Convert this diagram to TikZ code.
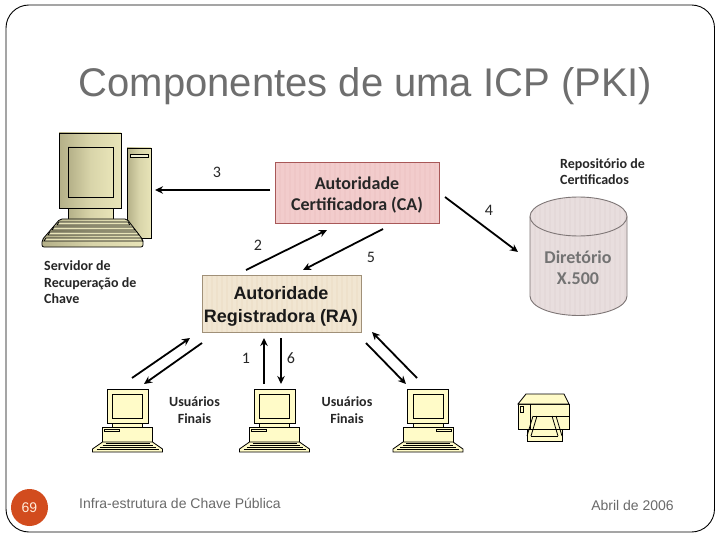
\documentclass[tikz,border=0pt]{standalone}
\usepackage{fontspec}
\setmainfont{Liberation Sans}
\newfontfamily\carl{Carlito}
\usetikzlibrary{arrows.meta,shapes.geometric}
\definecolor{iconfill}{HTML}{FFFBC8}
\definecolor{titlegray}{HTML}{6E6E6E}
\definecolor{footgray}{HTML}{6A6A6A}
\definecolor{caf}{HTML}{F2CCCC}
\definecolor{cafs}{HTML}{EFC7C7}
\definecolor{cad}{HTML}{A85858}
\definecolor{raf}{HTML}{F1E6D2}
\definecolor{rafs}{HTML}{EEE1CB}
\definecolor{rad}{HTML}{A09078}
\definecolor{cylf}{HTML}{E8DEDE}
\definecolor{cylfs}{HTML}{E4D9D9}
\definecolor{cyld}{HTML}{7E7676}
\definecolor{beigea}{HTML}{B4B088}
\definecolor{beigeb}{HTML}{E8E4B8}
\definecolor{pgred}{HTML}{D24C1E}
\tikzset{
  conn/.style={draw=black,line width=1.8pt,-{Stealth[length=8pt,width=7.5pt]}},
  lbl/.style={font=\carl\bfseries\fontsize{14}{16.5}\selectfont,align=left,inner sep=0pt,text=black!85},
  smalllbl/.style={font=\carl\bfseries\fontsize{14}{17}\selectfont,align=center,inner sep=0pt,text=black!85},
  numlbl/.style={font=\carl\fontsize{16}{17}\selectfont,inner sep=0pt,text=black!85},
  icon/.style={draw=black,line width=0.8pt,fill=iconfill},
  bigicon/.style={draw=black,line width=0.8pt,left color=beigea,right color=beigeb,middle color=beigeb!70!beigea},
  foot/.style={font=\fontsize{14}{16}\selectfont,text=footgray,inner sep=0pt},
  stripes/.style={path picture={\foreach \i in {0,5,...,170}
     \draw[#1,line width=2pt] ([xshift=\i pt]path picture bounding box.south west) -- ([xshift=\i pt]path picture bounding box.north west);}}
}
\newcommand{\smallpc}[2]{%
  \begin{scope}[shift={(#1,389)},xscale=#2]
    \path[icon] (-15,34) rectangle (15,38);
    \path[icon] (-20.5,0) rectangle (20.5,34);
    \path[icon] (-15,5) rectangle (15,29);
    \path[icon] (-25,38) rectangle (25,53);
    \path[icon] (-23,40) rectangle (-8,42);
    \path[icon] (-25,53) -- (25,53) -- (35,60) -- (35,63) -- (-35,63) -- (-35,60) -- cycle;
    \draw[line width=1pt] (-22,54.5) -- (22,54.5);
    \draw[line width=1pt] (-25,56.5) -- (25,56.5);
    \draw[line width=1pt] (-28,58.5) -- (28,58.5);
    \draw[line width=1pt] (-31,60.5) -- (31,60.5);
  \end{scope}}
\begin{document}
\begin{tikzpicture}[x=1pt,y=-1pt]
\useasboundingbox (0,0) rectangle (720,540);
\fill[white] (0,0) rectangle (720,540);
\node[draw=black,line width=0.9pt,rounded corners=23pt,minimum width=708.5pt,minimum height=527pt,inner sep=0pt] (frame) at (360.25,268.5) {};
\node[font=\fontsize{40}{44}\selectfont,text=titlegray,inner sep=0pt,anchor=base] (title) at (365.5,97) {Componentes de uma ICP (PKI)};

% big computer
\path[bigicon] (127,148) rectangle (151,238);
\path[draw=black,line width=0.8pt,fill=beigeb!60] (130,154) rectangle (148,157);
\path[bigicon] (68,208) rectangle (113,219);
\path[bigicon] (59,133) rectangle (121,208);
\path[bigicon] (68,147) rectangle (113,197);
\path[bigicon,rounded corners=2pt] (60,219) -- (127,219) -- (143,240) -- (143,247) -- (42,247) -- (42,240) -- cycle;
\foreach \y/\a/\b in {224/59/128,229/54/133,234/50/137,240/46/141}
  \draw[draw=black,line width=0.8pt,fill=beigeb] (\a,\y-2) -- (\b,\y-2) -- (\b+2,\y+1) -- (\a-2,\y+1) -- cycle;
\coordinate (srv) at (155,190);
\node[lbl,anchor=north west] (srvlbl) at (44,260.5) {Servidor de\\Recuperação de\\Chave};

% CA and RA
\node[draw=cad,fill=caf,stripes=cafs,line width=1pt,minimum width=164pt,minimum height=61pt,inner sep=0pt] (ca) at (357,193.5) {};
\node[font=\carl\bfseries\fontsize{18}{21}\selectfont,align=center,text=black!85,inner sep=0pt] (catext) at (357,195.5) {Autoridade\\Certificadora (CA)};
\node[draw=rad,fill=raf,stripes=rafs,line width=1pt,minimum width=159pt,minimum height=57pt,inner sep=0pt] (ra) at (281.5,303.5) {};
\node[font=\bfseries\fontsize{18}{23}\selectfont,align=center,text=black!90,inner sep=0pt] (ratext) at (281,306.5) {Autoridade\\Registradora (RA)};

% cylinder
\path[draw=cyld,fill=cylf,stripes=cylfs,line width=0.9pt] (530,216.5) -- (530,296) arc[start angle=180,end angle=360,x radius=48.5pt,y radius=19.5pt] -- (627,216.5) arc[start angle=0,end angle=180,x radius=48.5pt,y radius=19.5pt] -- cycle;
\path[draw=cyld,line width=0.9pt] (530,216.5) arc[start angle=180,end angle=360,x radius=48.5pt,y radius=19.5pt];
\node[font=\carl\bfseries\fontsize{18}{21}\selectfont,align=center,text=black!55,inner sep=0pt] (dir) at (578,268) {Diretório\\X.500};
\node[lbl,anchor=center] (replbl) at (602.5,171.5) {Repositório de\\Certificados};

% end users
\smallpc{127.5}{1}
\smallpc{274.5}{1}
\smallpc{428}{-1}
\coordinate (pca) at (144,384);
\coordinate (pcb) at (132,378);
\coordinate (pcc) at (264,384);
\coordinate (pcd) at (281,384);
\coordinate (pce) at (417,378);
\coordinate (pcf) at (406,384);
\node[smalllbl] (uf1) at (194.5,410.5) {Usuários\\Finais};
\node[smalllbl] (uf2) at (347,410.5) {Usuários\\Finais};

% printer
\path[icon] (527,429) rectangle (562,441);
\path[icon] (518,404) rectangle (569,429);
\path[icon] (526,394) -- (564,394) -- (569,404) -- (518,404) -- cycle;
\draw[line width=0.8pt] (530,404) -- (530,429);
\path[icon] (520,406) rectangle (523,412);
\draw[line width=0.8pt] (533,416) -- (569,416);
\draw[line width=0.8pt] (530,429) -- (559,429);
\draw[line width=0.8pt] (527,436) -- (533,416) (531,436) -- (537,416);
\draw[line width=0.8pt] (562,436) -- (556,416) (558,436) -- (552,416);
\draw[line width=0.8pt] (531,436) -- (558,436);
\node[inner sep=0pt,minimum size=0pt] (printer) at (543.5,418) {};

% connectors
\coordinate (cas) at (270,190);
\draw[conn] (cas) -- (srv);
\coordinate (a2s) at (246,270); \coordinate (a2e) at (327,230);
\draw[conn] (a2s) -- (a2e);
\coordinate (a5s) at (383,229); \coordinate (a5e) at (303,270);
\draw[conn] (a5s) -- (a5e);
\coordinate (a4s) at (445,197); \coordinate (a4e) at (518,252);
\draw[conn] (a4s) -- (a4e);
\coordinate (raa) at (190,338); \coordinate (rab) at (202,343);
\draw[conn] (pcb) -- (raa);
\draw[conn] (rab) -- (pca);
\coordinate (rac) at (264,338); \coordinate (rad) at (281,338);
\draw[conn] (pcc) -- (rac);
\draw[conn] (rad) -- (pcd);
\coordinate (rae) at (372,332); \coordinate (raf2) at (366,343);
\draw[conn] (pce) -- (rae);
\draw[conn] (raf2) -- (pcf);

% numbers
\node[numlbl] (n3) at (217,172) {3};
\node[numlbl] (n2) at (258,245) {2};
\node[numlbl] (n5) at (371,257) {5};
\node[numlbl] (n4) at (489,210) {4};
\node[numlbl] (n1) at (246,358) {1};
\node[numlbl] (n6) at (291,358) {6};

% footer
\node[circle,fill=pgred,minimum size=37pt,inner sep=0pt,font=\fontsize{14}{16}\selectfont,text=white!85!orange] (pg) at (29.5,507.5) {69};
\node[foot,anchor=base west] (ft) at (79,508) {Infra-estrutura de Chave Pública};
\node[foot,anchor=base east] (dt) at (674,510.5) {Abril de 2006};
\end{tikzpicture}
\end{document}
